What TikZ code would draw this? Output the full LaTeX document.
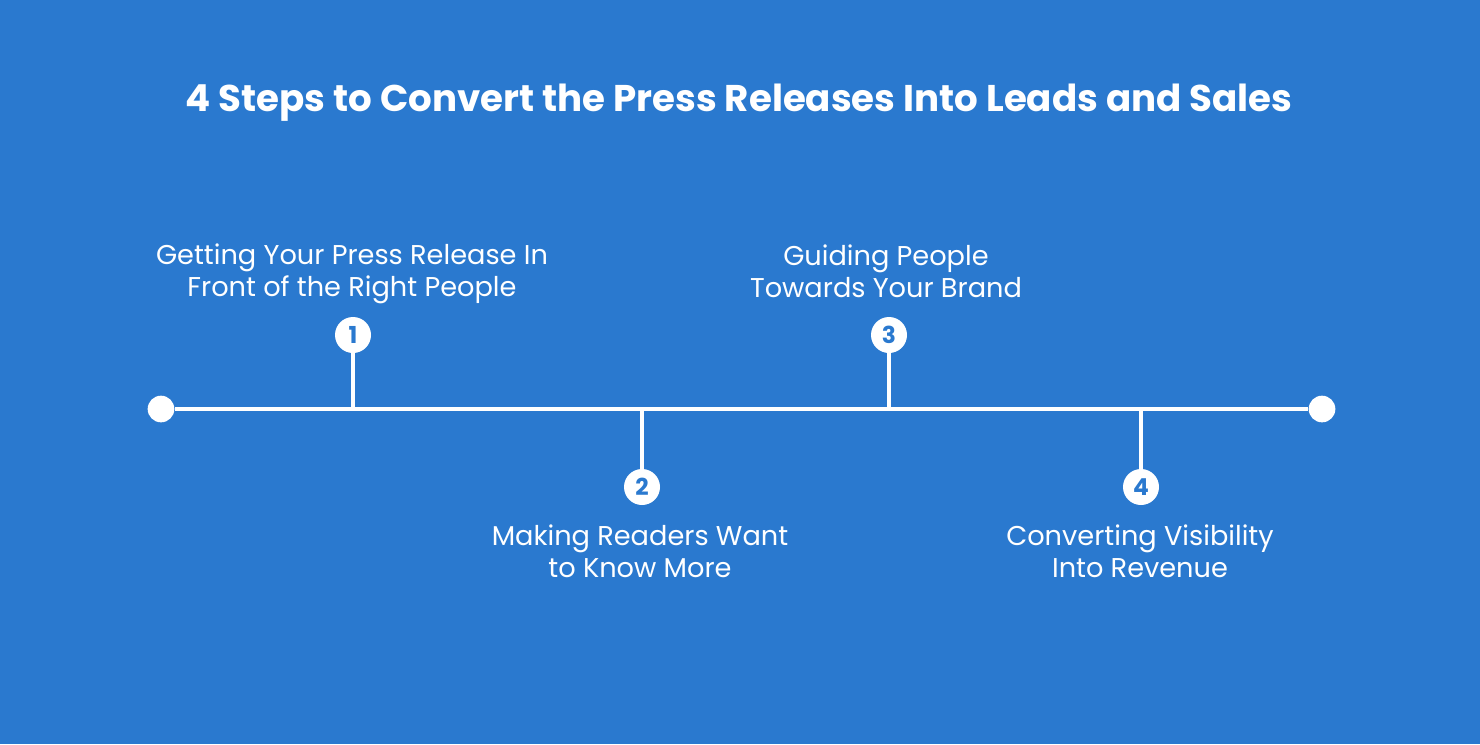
\documentclass[tikz,border=0pt]{standalone}
\usepackage{fontspec}
\setmainfont{Poppins}
\usetikzlibrary{positioning}
\definecolor{prblue}{HTML}{2A79CF}

\begin{document}
\begin{tikzpicture}[x=0.75pt,y=-0.75pt,
  enddot/.style={circle,fill=white,inner sep=0pt,minimum size=20pt},
  num/.style={circle,fill=white,inner sep=0pt,minimum size=27pt,text=prblue,font=\fontsize{17.5}{17.5}\selectfont\bfseries},
  steptext/.style={text=white,align=center,font=\fontsize{20.4}{24}\selectfont},
  rail/.style={draw=white,line width=3pt}]
\useasboundingbox[fill=prblue] (0,0) rectangle (1480,744);
\node[text=white,font=\fontsize{27.9}{32}\selectfont\bfseries](title) at (739,103){4 Steps to Convert the Press Releases Into Leads and Sales};
% timeline
\node[enddot](start) at (161,409){};
\node[enddot](stop) at (1322,409){};
\draw[rail] (start)--(stop);
% steps
\node[num](n1) at (353,335){1};
\node[num](n2) at (642,487){2};
\node[num](n3) at (889,335){3};
\node[num](n4) at (1141,487){4};
\draw[rail] (n1)--(n1 |- start);
\draw[rail] (n2)--(n2 |- start);
\draw[rail] (n3)--(n3 |- start);
\draw[rail] (n4)--(n4 |- start);
\node[steptext](t1) at (352,274){Getting Your Press Release In\\Front of the Right People};
\node[steptext](t2) at (640,551){Making Readers Want\\to Know More};
\node[steptext](t3) at (886,271){Guiding People\\Towards Your Brand};
\node[steptext](t4) at (1140,551){Converting Visibility\\Into Revenue};
\end{tikzpicture}
\end{document}
